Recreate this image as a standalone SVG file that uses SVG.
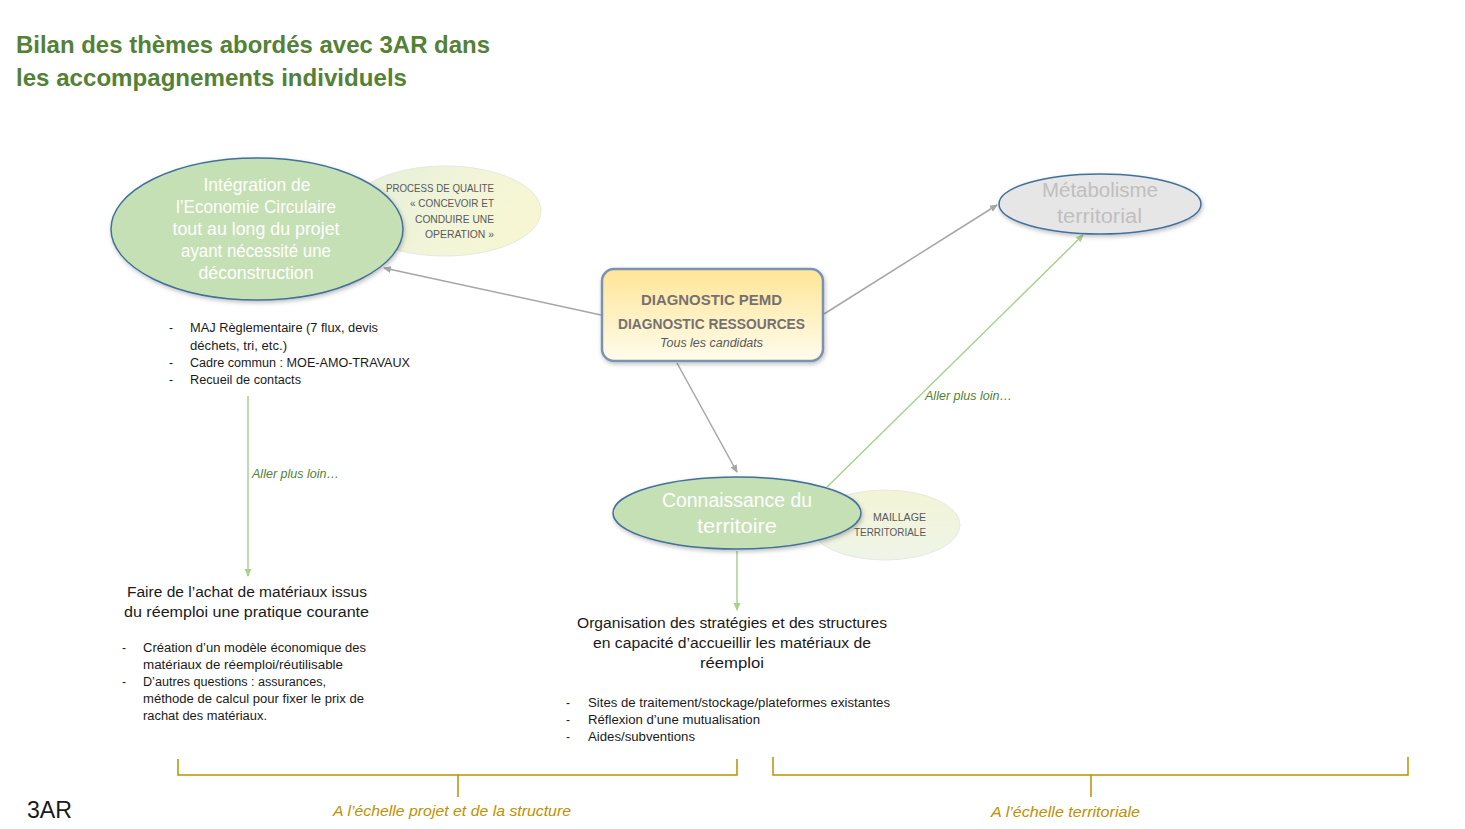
<svg xmlns="http://www.w3.org/2000/svg" width="1465" height="829" viewBox="0 0 1465 829">
<style>
text{font-family:"Liberation Sans",Arial,sans-serif}
.title{font-size:24px;font-weight:bold;fill:#538135}
.wl{fill:#ffffff;text-anchor:middle}
.small{font-size:10.5px;fill:#595959;text-anchor:end}
.diag{font-size:14.5px;font-weight:bold;fill:#767171;text-anchor:middle}
.body{font-size:12px;fill:#1a1a1a}
.big{font-size:15.5px;fill:#1a1a1a;text-anchor:middle}
.aller{font-size:12px;font-style:italic;fill:#538135}
.gold{font-size:14px;font-style:italic;fill:#bf9000;text-anchor:middle}
.gc{stroke:#a6a6a6;stroke-width:1.5;fill:none}
.gr{stroke:#a9d18e;stroke-width:1.5;fill:none}
.br{stroke:#bf9000;stroke-width:1.5;fill:none}
</style>
<defs>
<marker id="ag" markerWidth="8" markerHeight="8" refX="7" refY="4" orient="auto" markerUnits="userSpaceOnUse"><path d="M0,0.5 L8,4 L0,7.5 Z" fill="#a6a6a6"/></marker>
<marker id="agr" markerWidth="8" markerHeight="8" refX="7" refY="4" orient="auto" markerUnits="userSpaceOnUse"><path d="M0,0.5 L8,4 L0,7.5 Z" fill="#a9d18e"/></marker>
<linearGradient id="faint" x1="0" y1="0" x2="1" y2="0.3"><stop offset="0" stop-color="#e4efdb"/><stop offset="0.7" stop-color="#f3f5d8"/><stop offset="1" stop-color="#f6f6d2"/></linearGradient>
<linearGradient id="faint2" x1="0" y1="0" x2="0" y2="1"><stop offset="0" stop-color="#f3f4d6"/><stop offset="1" stop-color="#eef4e8"/></linearGradient>
<linearGradient id="yel" x1="0" y1="0" x2="0" y2="1"><stop offset="0" stop-color="#ffe597"/><stop offset="1" stop-color="#fffcec"/></linearGradient>
<filter id="sh" x="-10%" y="-10%" width="120%" height="130%"><feDropShadow dx="1" dy="2" stdDeviation="2" flood-color="#000" flood-opacity="0.25"/></filter>
</defs>

<g id="title">
<text class="title" x="16" y="53" textLength="474" lengthAdjust="spacingAndGlyphs">Bilan des thèmes abordés avec 3AR dans</text>
<text class="title" x="16" y="86" textLength="391" lengthAdjust="spacingAndGlyphs">les accompagnements individuels</text>
</g>

<g id="connectors">
<line class="gc" x1="601" y1="315" x2="384" y2="268" marker-end="url(#ag)"/>
<line class="gc" x1="824" y1="314" x2="997" y2="205" marker-end="url(#ag)"/>
<line class="gc" x1="677" y1="363" x2="737" y2="472" marker-end="url(#ag)"/>
<line class="gr" x1="827" y1="487" x2="1083" y2="235" marker-end="url(#agr)"/>
<line class="gr" x1="248" y1="396" x2="248" y2="576" marker-end="url(#agr)"/>
<line class="gr" x1="737" y1="551" x2="737" y2="610" marker-end="url(#agr)"/>
<text class="aller" x="252" y="478" textLength="87" lengthAdjust="spacingAndGlyphs">Aller plus loin…</text>
<text class="aller" x="925" y="400" textLength="87" lengthAdjust="spacingAndGlyphs">Aller plus loin…</text>
</g>

<g id="process-qualite">
<ellipse cx="445" cy="211" rx="96" ry="45" fill="url(#faint)" stroke="#e6e9e0" stroke-width="1"/>
<text class="small" x="494" y="192" textLength="108" lengthAdjust="spacingAndGlyphs">PROCESS DE QUALITE</text>
<text class="small" x="494" y="207" textLength="84" lengthAdjust="spacingAndGlyphs">« CONCEVOIR ET</text>
<text class="small" x="494" y="223" textLength="79" lengthAdjust="spacingAndGlyphs">CONDUIRE UNE</text>
<text class="small" x="494" y="238" textLength="69" lengthAdjust="spacingAndGlyphs">OPERATION »</text>
</g>

<g id="integration">
<ellipse cx="257" cy="229" rx="146" ry="71" fill="#c5e0b4" stroke="#41719c" stroke-width="1.5" filter="url(#sh)"/>
<g class="wl" font-size="17.5">
<text x="257" y="191" textLength="107" lengthAdjust="spacingAndGlyphs">Intégration de</text>
<text x="256" y="213" textLength="160" lengthAdjust="spacingAndGlyphs">l’Economie Circulaire</text>
<text x="256" y="235" textLength="167" lengthAdjust="spacingAndGlyphs">tout au long du projet</text>
<text x="256" y="257" textLength="150" lengthAdjust="spacingAndGlyphs">ayant nécessité une</text>
<text x="256" y="279" textLength="115" lengthAdjust="spacingAndGlyphs">déconstruction</text>
</g>
</g>

<g id="diagnostic">
<rect x="602" y="269" width="221" height="92" rx="12" fill="url(#yel)" stroke="#7d92b0" stroke-width="2.5" filter="url(#sh)"/>
<text class="diag" x="711.5" y="305" textLength="141" lengthAdjust="spacingAndGlyphs">DIAGNOSTIC  PEMD</text>
<text class="diag" x="711.5" y="329" textLength="187" lengthAdjust="spacingAndGlyphs">DIAGNOSTIC RESSOURCES</text>
<text x="711.5" y="347" font-size="12.5" font-style="italic" fill="#595959" text-anchor="middle" textLength="103" lengthAdjust="spacingAndGlyphs">Tous les candidats</text>
</g>

<g id="metabolisme">
<ellipse cx="1100" cy="204" rx="101" ry="30" fill="#e7e6e6" stroke="#41719c" stroke-width="1.5" filter="url(#sh)"/>
<text x="1100" y="197" font-size="20" fill="#bfbfbf" text-anchor="middle" textLength="116" lengthAdjust="spacingAndGlyphs">Métabolisme</text>
<text x="1099.5" y="223" font-size="20" fill="#bfbfbf" text-anchor="middle" textLength="85" lengthAdjust="spacingAndGlyphs">territorial</text>
</g>

<g id="maillage">
<ellipse cx="885" cy="525" rx="75" ry="35" fill="url(#faint2)" stroke="#e6e9e0" stroke-width="1"/>
<text class="small" x="926" y="521" textLength="53" lengthAdjust="spacingAndGlyphs">MAILLAGE</text>
<text class="small" x="926" y="536" textLength="72" lengthAdjust="spacingAndGlyphs">TERRITORIALE</text>
</g>

<g id="connaissance">
<ellipse cx="737" cy="513" rx="124" ry="36" fill="#c5e0b4" stroke="#41719c" stroke-width="1.5" filter="url(#sh)"/>
<text class="wl" x="737" y="507" font-size="20" textLength="150" lengthAdjust="spacingAndGlyphs">Connaissance du</text>
<text class="wl" x="737" y="533" font-size="20" textLength="80" lengthAdjust="spacingAndGlyphs">territoire</text>
</g>

<g id="liste-integration">
<text class="body" x="169" y="332">-</text>
<text class="body" x="190" y="332" textLength="188" lengthAdjust="spacingAndGlyphs">MAJ Règlementaire (7 flux, devis</text>
<text class="body" x="190" y="350" textLength="97" lengthAdjust="spacingAndGlyphs">déchets, tri, etc.)</text>
<text class="body" x="169" y="367">-</text>
<text class="body" x="190" y="367" textLength="220" lengthAdjust="spacingAndGlyphs">Cadre commun : MOE-AMO-TRAVAUX</text>
<text class="body" x="169" y="384">-</text>
<text class="body" x="190" y="384" textLength="111" lengthAdjust="spacingAndGlyphs">Recueil de contacts</text>
</g>

<g id="achat">
<text class="big" x="247" y="597" textLength="240" lengthAdjust="spacingAndGlyphs">Faire de l’achat de matériaux issus</text>
<text class="big" x="246.5" y="617" textLength="245" lengthAdjust="spacingAndGlyphs">du réemploi une pratique courante</text>
<text class="body" x="122" y="652">-</text>
<text class="body" x="143" y="652" textLength="223" lengthAdjust="spacingAndGlyphs">Création d’un modèle économique des</text>
<text class="body" x="143" y="669" textLength="200" lengthAdjust="spacingAndGlyphs">matériaux de réemploi/réutilisable</text>
<text class="body" x="122" y="686">-</text>
<text class="body" x="143" y="686" textLength="183" lengthAdjust="spacingAndGlyphs">D’autres questions : assurances,</text>
<text class="body" x="143" y="703" textLength="221" lengthAdjust="spacingAndGlyphs">méthode de calcul pour fixer le prix de</text>
<text class="body" x="143" y="720" textLength="124" lengthAdjust="spacingAndGlyphs">rachat des matériaux.</text>
</g>

<g id="organisation">
<text class="big" x="732" y="628" textLength="310" lengthAdjust="spacingAndGlyphs">Organisation des stratégies et des structures</text>
<text class="big" x="732" y="648" textLength="278" lengthAdjust="spacingAndGlyphs">en capacité d’accueillir les matériaux de</text>
<text class="big" x="732" y="668" textLength="64" lengthAdjust="spacingAndGlyphs">réemploi</text>
<text class="body" x="566" y="707">-</text>
<text class="body" x="588" y="707" textLength="302" lengthAdjust="spacingAndGlyphs">Sites de traitement/stockage/plateformes existantes</text>
<text class="body" x="566" y="724">-</text>
<text class="body" x="588" y="724" textLength="172" lengthAdjust="spacingAndGlyphs">Réflexion d’une mutualisation</text>
<text class="body" x="566" y="741">-</text>
<text class="body" x="588" y="741" textLength="107" lengthAdjust="spacingAndGlyphs">Aides/subventions</text>
</g>

<g id="echelles">
<path class="br" d="M178,759 V775 H737 V759 M458,775 V797"/>
<path class="br" d="M773,757 V775 H1408 V757 M1091,775 V797"/>
<text class="gold" x="452" y="816" textLength="238" lengthAdjust="spacingAndGlyphs">A l’échelle projet et de la structure</text>
<text class="gold" x="1065.5" y="817" textLength="149" lengthAdjust="spacingAndGlyphs">A l’échelle territoriale</text>
</g>

<g id="logo">
<text x="27" y="818" font-size="24" fill="#1a1a1a" textLength="45" lengthAdjust="spacingAndGlyphs">3AR</text>
</g>
</svg>
